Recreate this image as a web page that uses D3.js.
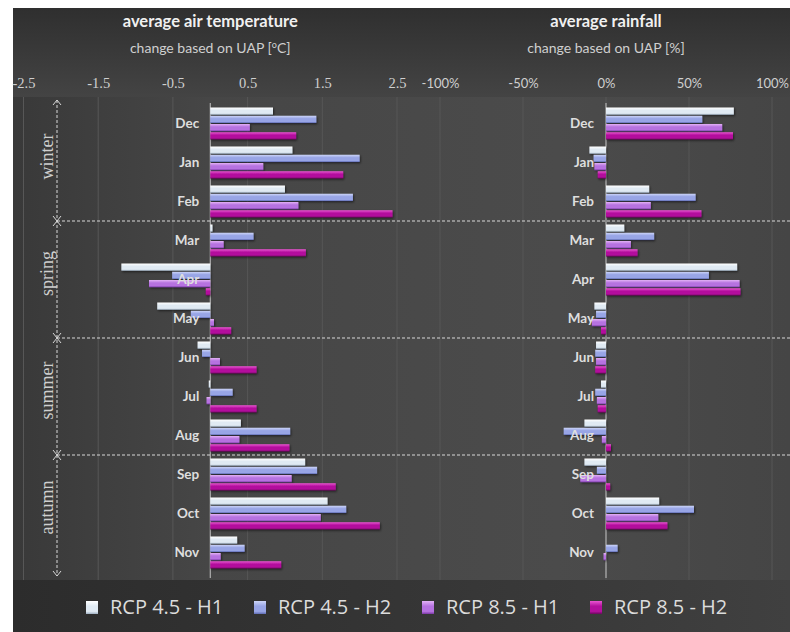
<!DOCTYPE html>
<html>
<head>
<meta charset="utf-8">
<script src="https://cdn.jsdelivr.net/npm/d3@7"></script>
<style>
  body { margin: 0; background: #ffffff; }
  svg { display: block; }
</style>
</head>
<body>
<svg id="chart" width="790" height="632"></svg>
<script>
// ---- data -------------------------------------------------------------
const months  = ["Dec", "Jan", "Feb", "Mar", "Apr", "May", "Jun", "Jul", "Aug", "Sep", "Oct", "Nov"];
const series  = ["RCP 4.5 - H1", "RCP 4.5 - H2", "RCP 8.5 - H1", "RCP 8.5 - H2"];
const seasons = ["winter", "spring", "summer", "autumn"];

const tempTicks = [-2.5, -1.5, -0.5, 0.5, 1.5, 2.5];
const rainTicks = [-100, -50, 0, 50, 100];

// average air temperature change [°C]
const tempRcp45H1 = [0.84, 1.10, 1.00, 0.03, -1.19, -0.71, -0.17, -0.02, 0.41, 1.27, 1.57, 0.36];
const tempRcp45H2 = [1.42, 2.00, 1.91, 0.58, -0.51, -0.26, -0.11, 0.30, 1.07, 1.43, 1.82, 0.46];
const tempRcp85H1 = [0.53, 0.71, 1.18, 0.18, -0.82, 0.05, 0.13, -0.05, 0.39, 1.09, 1.48, 0.14];
const tempRcp85H2 = [1.15, 1.78, 2.44, 1.28, -0.06, 0.28, 0.62, 0.62, 1.06, 1.68, 2.27, 0.95];

// average rainfall change [%]
const rainRcp45H1 = [77, -10, 26, 11, 79, -7, -6, -3, -13, -13, 32, 0];
const rainRcp45H2 = [58, -7.5, 54, 29, 62, -6, -6.5, -6.5, -25.5, -5.5, 53, 7];
const rainRcp85H1 = [70, -7, 27, 15, 80.5, -8.5, -6, -5.5, -2.5, -15.5, 31.5, -1.5];
const rainRcp85H2 = [76.5, -5, 57.5, 19, 81, -3, -6.5, -5, 3, 2.5, 37, 0];

// ---- styles -------------------------------------------------------------
const seriesColors = [
  { light: "#ffffff", base: "#e0eaf3", dark: "#9fb0c2" },
  { light: "#cdd5f8", base: "#98a5e6", dark: "#5f6cb4" },
  { light: "#e3b2f6", base: "#b672e0", dark: "#7a38a6" },
  { light: "#ea55d2", base: "#b3109d", dark: "#6a085c" }
];

const svg = d3.select("#chart");
const defs = svg.append("defs");

seriesColors.forEach((c, i) => {
  const g = defs.append("linearGradient")
    .attr("id", "bar-grad-" + i)
    .attr("x1", 0).attr("y1", 0).attr("x2", 0).attr("y2", 1);
  g.append("stop").attr("offset", "0%").attr("stop-color", c.light);
  g.append("stop").attr("offset", "40%").attr("stop-color", c.base);
  g.append("stop").attr("offset", "80%").attr("stop-color", c.base);
  g.append("stop").attr("offset", "100%").attr("stop-color", c.dark);
});

const shadow = defs.append("filter").attr("id", "bar-shadow")
  .attr("x", "-10%").attr("y", "-40%").attr("width", "130%").attr("height", "200%");
shadow.append("feDropShadow")
  .attr("dx", 1).attr("dy", 1.2).attr("stdDeviation", 0.8)
  .attr("flood-color", "#000").attr("flood-opacity", 0.55);

const topGrad = defs.append("linearGradient").attr("id", "top-grad")
  .attr("x1", 0).attr("y1", 0).attr("x2", 0).attr("y2", 1);
topGrad.append("stop").attr("offset", "0%").attr("stop-color", "#2f2f2f");
topGrad.append("stop").attr("offset", "100%").attr("stop-color", "#444444");

const plotGrad = defs.append("linearGradient").attr("id", "plot-grad")
  .attr("x1", 0).attr("y1", 0).attr("x2", 1).attr("y2", 0);
plotGrad.append("stop").attr("offset", "0%").attr("stop-color", "#393939");
plotGrad.append("stop").attr("offset", "25%").attr("stop-color", "#464646");
plotGrad.append("stop").attr("offset", "70%").attr("stop-color", "#4b4b4b");
plotGrad.append("stop").attr("offset", "100%").attr("stop-color", "#454545");

const legGrad = defs.append("linearGradient").attr("id", "legend-grad")
  .attr("x1", 0).attr("y1", 0).attr("x2", 1).attr("y2", 0);
legGrad.append("stop").attr("offset", "0%").attr("stop-color", "#2c2c2c");
legGrad.append("stop").attr("offset", "55%").attr("stop-color", "#363636");
legGrad.append("stop").attr("offset", "100%").attr("stop-color", "#404040");

// ---- background -------------------------------------------------------
svg.append("rect").attr("x", 13).attr("y", 8).attr("width", 777).attr("height", 90).attr("fill", "url(#top-grad)");
svg.append("rect").attr("x", 13).attr("y", 97).attr("width", 777).attr("height", 483).attr("fill", "url(#plot-grad)");
svg.append("rect").attr("x", 13).attr("y", 580).attr("width", 777).attr("height", 52).attr("fill", "url(#legend-grad)");

// ---- scales -------------------------------------------------------------
const y0 = d3.scaleBand().domain(months).range([104, 572]).paddingInner(0.18).paddingOuter(0.09);
const y1 = d3.scaleBand().domain(series).range([0, y0.bandwidth()]).paddingInner(0.12);

const panels = [
  {
    values: [tempRcp45H1, tempRcp45H2, tempRcp85H1, tempRcp85H2],
    x: d3.scaleLinear().domain([-2.5, 2.5]).range([23.5, 397]),
    ticks: tempTicks,
    fmt: d => d.toFixed(1),
    tickFont: "'Liberation Serif', serif",
    tickSize: 14.5,
    title: "average air temperature",
    subtitle: ["change based on UAP [", "o", "C]"],
    labelGap: 11
  },
  {
    values: [rainRcp45H1, rainRcp45H2, rainRcp85H1, rainRcp85H2],
    x: d3.scaleLinear().domain([-100, 100]).range([440, 772]),
    ticks: rainTicks,
    fmt: d => d + "%",
    tickFont: "Lato, sans-serif",
    tickSize: 13,
    title: "average rainfall",
    subtitle: ["change based on UAP [%]"],
    labelGap: 12
  }
];

panels.forEach(p => {
  const g = svg.append("g");
  const x = p.x;

  // vertical grid lines
  g.append("g").selectAll("line").data(p.ticks).join("line")
    .attr("x1", d => x(d)).attr("x2", d => x(d))
    .attr("y1", 97).attr("y2", 580)
    .attr("stroke", "#575757").attr("stroke-width", 1);

  // tick labels along the top
  const axis = g.append("g").attr("transform", "translate(0,88)")
    .call(d3.axisTop(x).tickValues(p.ticks).tickFormat(p.fmt).tickSize(0).tickPadding(0));
  axis.select(".domain").remove();
  axis.selectAll("text")
    .attr("fill", "#cfcfcf")
    .attr("font-family", p.tickFont)
    .attr("font-size", p.tickSize);

  // zero line
  g.append("line")
    .attr("x1", x(0)).attr("x2", x(0)).attr("y1", 103).attr("y2", 578)
    .attr("stroke", "#c4c4c4").attr("stroke-width", 1);

  // bars
  p.values.forEach((vals, si) => {
    g.append("g").attr("filter", "url(#bar-shadow)")
      .selectAll("rect").data(vals.map((v, mi) => ({ v, m: months[mi] }))).join("rect")
      .attr("x", d => x(Math.min(0, d.v)))
      .attr("width", d => Math.abs(x(d.v) - x(0)))
      .attr("y", d => y0(d.m) + y1(series[si]))
      .attr("height", y1.bandwidth())
      .attr("fill", "url(#bar-grad-" + si + ")");
  });

  // month labels, drawn over the bars
  g.append("g").selectAll("text").data(months).join("text")
    .attr("x", x(0) - p.labelGap)
    .attr("y", d => y0(d) + y0.bandwidth() / 2 + 4.5)
    .attr("text-anchor", "end")
    .attr("font-family", "Lato, sans-serif")
    .attr("font-weight", 700)
    .attr("font-size", 13.5)
    .attr("fill", "#dedede")
    .text(d => d);

  // titles
  g.append("text")
    .attr("x", x(0)).attr("y", 27)
    .attr("text-anchor", "middle")
    .attr("font-family", "Lato, sans-serif")
    .attr("font-weight", 700)
    .attr("font-size", 16.5)
    .attr("fill", "#f0f0f0")
    .text(p.title);

  const sub = g.append("text")
    .attr("x", x(0)).attr("y", 53)
    .attr("text-anchor", "middle")
    .attr("font-family", "Lato, sans-serif")
    .attr("font-size", 14)
    .attr("fill", "#cfcfcf");
  if (p.subtitle.length === 1) {
    sub.text(p.subtitle[0]);
  } else {
    sub.append("tspan").text(p.subtitle[0]);
    sub.append("tspan").attr("font-size", 9).attr("dy", -5).text(p.subtitle[1]);
    sub.append("tspan").attr("dy", 5).text(p.subtitle[2]);
  }
});

// ---- season brackets ------------------------------------------------------
const step = y0.step();
const seasonEdges = d3.range(5).map(i => y0.range()[0] + i * 3 * step);
const bx = 57;

const sg = svg.append("g");
// horizontal dashed separators
sg.selectAll("line.sep").data(seasonEdges.slice(1, 4)).join("line")
  .attr("class", "sep")
  .attr("x1", bx).attr("x2", 790)
  .attr("y1", d => d).attr("y2", d => d)
  .attr("stroke", "#d8d8d8").attr("stroke-width", 1).attr("stroke-dasharray", "3,2");

// vertical dashed bracket
sg.append("line")
  .attr("x1", bx).attr("x2", bx)
  .attr("y1", seasonEdges[0] - 4).attr("y2", seasonEdges[4] + 4)
  .attr("stroke", "#d8d8d8").attr("stroke-width", 1).attr("stroke-dasharray", "3,2");

// arrow heads
const chevron = (yTip, dir) => `M${bx - 4},${yTip + dir * 5} L${bx},${yTip} L${bx + 4},${yTip + dir * 5}`;
const heads = [];
seasonEdges.forEach((e, i) => {
  const tip = i === 0 ? e - 4 : i === 4 ? e + 4 : e;
  if (i > 0) heads.push(chevron(tip, -1));
  if (i < 4) heads.push(chevron(tip, 1));
});
sg.selectAll("path").data(heads).join("path")
  .attr("d", d => d)
  .attr("fill", "none").attr("stroke", "#d8d8d8").attr("stroke-width", 1);

// season names
sg.selectAll("text").data(seasons).join("text")
  .attr("transform", (d, i) => `translate(53,${(seasonEdges[i] + seasonEdges[i + 1]) / 2 - 6}) rotate(-90)`)
  .attr("text-anchor", "middle")
  .attr("font-family", "'Liberation Serif', serif")
  .attr("font-size", 18)
  .attr("fill", "#cfcfcf")
  .text(d => d);

// ---- legend ---------------------------------------------------------------
const legendX = d3.scalePoint().domain(series).range([86, 590]);
const lg = svg.append("g").selectAll("g").data(series).join("g")
  .attr("transform", d => `translate(${legendX(d)},601)`);
lg.append("rect")
  .attr("width", 12).attr("height", 13)
  .attr("fill", (d, i) => "url(#bar-grad-" + i + ")");
lg.append("text")
  .attr("x", 24).attr("y", 13)
  .attr("font-family", "'Open Sans', sans-serif")
  .attr("font-size", 20)
  .attr("fill", "#dcdcdc")
  .text(d => d);
</script>
</body>
</html>
